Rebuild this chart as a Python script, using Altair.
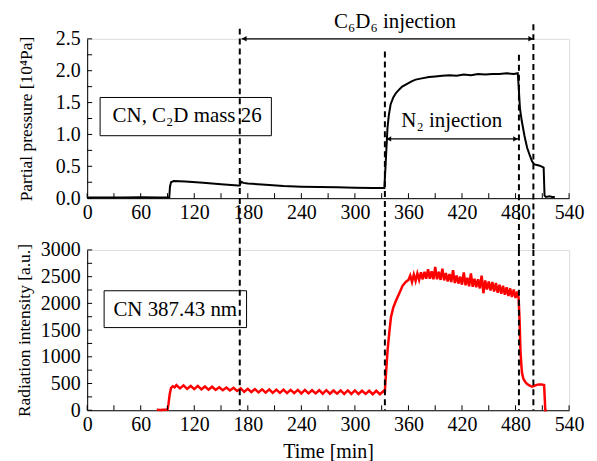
import altair as alt
import pandas as pd

FONT = "Liberation Serif"
W = 484
H1 = 160
H2 = 161
GAP = 52

# ---------------- data ----------------
# Partial pressure (10^4 Pa) versus time (min)
p_time = [0, 20, 40, 60, 80, 92, 92.8, 94, 97, 110, 130, 150, 169, 171, 172.5, 175, 180, 200, 220, 240, 260, 280, 300, 320, 333,
          334.5, 336.5, 338, 340, 343, 346, 350, 353, 358, 363, 368, 375, 383, 390, 398, 406, 414, 422, 430, 438, 446, 454, 462, 470, 478, 482.5,
          483.5, 485, 487, 490, 493, 496, 498.5, 501, 504, 507, 510, 511.5, 512.5, 514, 518, 521, 524]
p_val = [0.01, 0.01, 0.01, 0.015, 0.01, 0.01, 0.18, 0.25, 0.27, 0.26, 0.24, 0.22, 0.20, 0.20, 0.26, 0.24, 0.23, 0.21, 0.19, 0.18, 0.175, 0.17, 0.165, 0.16, 0.16,
         0.55, 1.10, 1.30, 1.47, 1.58, 1.65, 1.71, 1.75, 1.79, 1.83, 1.86, 1.88, 1.90, 1.91, 1.92, 1.93, 1.92, 1.94, 1.93, 1.95, 1.94, 1.95, 1.95, 1.96, 1.95, 1.96,
         1.75, 1.40, 1.21, 0.98, 0.79, 0.67, 0.58, 0.53, 0.52, 0.51, 0.49, 0.48, 0.04, 0.02, 0.03, 0.02, 0.02]

# Radiation intensity (a.u.) versus time (min)
r_time = [78, 82, 86, 90, 91, 92.5, 94, 96, 98,
          100, 104, 108, 112, 116, 120, 124, 128, 132, 136, 140, 144, 148, 152, 156, 160, 164, 168, 172, 176,
          180, 184, 188, 192, 196, 200, 204, 208, 212, 216, 220, 224, 228, 232, 236, 240, 244, 248, 252, 256,
          260, 264, 268, 272, 276, 280, 284, 288, 292, 296, 300, 304, 308, 312, 316, 320, 324, 328, 332,
          333.5, 334.5, 336.6, 338.5, 340.4, 343, 346, 350, 353.4, 357, 360,
          362, 364, 366, 368, 370, 372, 374, 376, 378, 380, 382, 384, 386, 388, 390, 392, 394, 396, 398, 400,
          402, 404, 406, 408, 410, 412, 414, 416, 418, 420, 422, 424, 426, 428, 430, 432, 434, 436, 438, 440,
          442, 444, 446, 448, 450, 452, 454, 456, 458, 460, 462, 464, 466, 468, 470, 472, 474, 476, 478, 480, 482,
          483.4, 484.5, 485.5, 486.5, 487.3, 489, 491, 493, 495, 498.5, 501, 503, 506, 509, 512, 512.8, 513.3, 515]
r_val = [10, 5, 10, 10, 100, 300, 420, 450, 430,
         470, 410, 465, 400, 455, 395, 455, 390, 445, 385, 440, 380, 430, 375, 425, 370, 420, 360, 410, 345,
         400, 340, 395, 335, 390, 330, 390, 325, 385, 325, 385, 320, 380, 320, 380, 315, 380, 315, 375, 315,
         375, 310, 375, 310, 370, 310, 370, 305, 370, 305, 370, 305, 365, 305, 365, 300, 365, 300, 360,
         340, 600, 1118, 1450, 1739, 1920, 2050, 2200, 2329, 2400, 2440,
         2520, 2400, 2540, 2420, 2560, 2440, 2580, 2450, 2590, 2460, 2640, 2460, 2600, 2450, 2680, 2450, 2590, 2440, 2650, 2430,
         2570, 2410, 2550, 2400, 2620, 2380, 2520, 2370, 2500, 2350, 2580, 2340, 2480, 2320, 2560, 2310, 2460, 2300, 2450, 2280,
         2520, 2190, 2430, 2260, 2410, 2240, 2400, 2220, 2380, 2200, 2350, 2180, 2330, 2160, 2300, 2140, 2280, 2120, 2260, 2100, 2220,
         2110, 1700, 1118, 850, 690, 580, 528, 490, 470, 440, 455, 470, 484, 480, 470, 200, 0, 0]

# Events (dashed lines) and where each starts in the upper panel
event_time = [171, 333.6, 483.8, 500]
event_top = [2.66, 2.30, 2.25, 2.73]

# Axis ticks and labels
x_tick_values = [0, 30, 60, 90, 120, 150, 180, 210, 240, 270, 300, 330, 360, 390, 420, 450, 480, 510, 540]
x_label_values = [0, 60, 120, 180, 240, 300, 360, 420, 480, 540]
p_tick_values = [0, 0.25, 0.5, 0.75, 1.0, 1.25, 1.5, 1.75, 2.0, 2.25, 2.5]
p_label_values = [0, 0.5, 1.0, 1.5, 2.0, 2.5]
r_tick_values = [0, 250, 500, 750, 1000, 1250, 1500, 1750, 2000, 2250, 2500, 2750, 3000]
r_label_values = [0, 500, 1000, 1500, 2000, 2500, 3000]

# Annotations
c6d6_span = [173, 500]
c6d6_level = 2.5
n2_span = [335, 483]
n2_level = 0.93

press = pd.DataFrame({"t": p_time, "v": p_val})
rad = pd.DataFrame({"t": r_time, "v": r_val})

xs = alt.Scale(domain=[0, 540], nice=False, zero=False)
ys1 = alt.Scale(domain=[0, 2.5], nice=False)
ys2 = alt.Scale(domain=[0, 3000], nice=False)


def x_axis(title):
    return alt.Axis(values=x_label_values, ticks=False, grid=False, domain=True, domainColor="black", domainWidth=1,
                    labelFont=FONT, labelFontSize=20, labelColor="black", labelPadding=4,
                    labelFlush=False, labelOverlap=False,
                    title=title, titleFont=FONT, titleFontSize=20, titleFontWeight="normal",
                    titleColor="black", titlePadding=7)


def y_axis(title, values, fmt, tpad):
    return alt.Axis(values=values, format=fmt, ticks=False, grid=False, domain=True, domainColor="black", domainWidth=1,
                    labelFont=FONT, labelFontSize=20, labelColor="black", labelPadding=7,
                    labelFlush=False, labelOverlap=False,
                    title=title, titleFont=FONT, titleFontSize=17.5, titleFontWeight="normal",
                    titleColor="black", titlePadding=tpad)


def make_panel(xaxis, yscale, yaxis, height, ticks_y, main, extras):
    """Build a layered panel where every layer shares identical axis definitions."""
    def X(field):
        return alt.X(f"{field}:Q", scale=xs, axis=xaxis)

    def Y(field):
        return alt.Y(f"{field}:Q", scale=yscale, axis=yaxis)

    layers = [main(X, Y)]
    # inward x ticks
    layers.append(alt.Chart(pd.DataFrame({"t": x_tick_values})).mark_rule(color="black", strokeWidth=1).encode(
        x=X("t"), y=alt.value(height), y2=alt.value(height - 5)))
    # inward y ticks
    layers.append(alt.Chart(pd.DataFrame({"v": ticks_y})).mark_rule(color="black", strokeWidth=1).encode(
        y=Y("v"), x=alt.value(0), x2=alt.value(5)))
    for e in extras:
        layers.append(e(X, Y))
    return alt.layer(*layers).properties(width=W, height=height)


ev = pd.DataFrame({"t": event_time, "top": event_top})

# ---------------- upper panel ----------------
xa_top = x_axis(None)
ya_top = y_axis("Partial pressure [10⁴Pa]", p_label_values, ".1f", 20)


def top_main(X, Y):
    return alt.Chart(press).mark_line(color="black", strokeWidth=2).encode(x=X("t"), y=Y("v"))


def top_box(X, Y):
    return alt.Chart(pd.DataFrame({"x": [14.5], "x2": [206.4], "y": [1.58], "y2": [0.98]})).mark_rect(
        fill="white", stroke="black", strokeWidth=1).encode(x=X("x"), x2="x2:Q", y=Y("y"), y2="y2:Q")


def top_text(X, Y):
    return alt.Chart(pd.DataFrame({"x": [112, 345, 408.5], "y": [1.29, 2.77, 1.21],
                                   "s": ["CN, C₂D mass 26", "C₆D₆ injection", "N₂ injection"]})).mark_text(
        font=FONT, fontSize=21, color="black", baseline="middle", align="center").encode(
        x=X("x"), y=Y("y"), text="s:N")


def top_arrow_lines(X, Y):
    arrows = pd.DataFrame({"x": [c6d6_span[0], n2_span[0]], "x2": [c6d6_span[1], n2_span[1]],
                           "y": [c6d6_level, n2_level]})
    return alt.Chart(arrows).mark_rule(color="black", strokeWidth=1.2).encode(x=X("x"), x2="x2:Q", y=Y("y"))


def top_arrow_heads(X, Y):
    heads = pd.DataFrame({"x": [c6d6_span[0] + 3, c6d6_span[1] - 3, n2_span[0] + 3, n2_span[1] - 3],
                          "y": [c6d6_level, c6d6_level, n2_level, n2_level],
                          "shape": ["triangle-left", "triangle-right", "triangle-left", "triangle-right"]})
    return alt.Chart(heads).mark_point(filled=True, color="black", size=30, opacity=1).encode(
        x=X("x"), y=Y("y"), shape=alt.Shape("shape:N", scale=None))


def top_dashes(X, Y):
    return alt.Chart(ev).mark_rule(color="black", strokeWidth=2, strokeDash=[6, 4]).encode(
        x=X("t"), y=Y("top"), y2=alt.value(H1 + GAP))


top = make_panel(xa_top, ys1, ya_top, H1, p_tick_values, top_main,
                 [top_box, top_text, top_arrow_lines, top_arrow_heads, top_dashes])

# ---------------- lower panel ----------------
xa_bot = x_axis("Time [min]")
ya_bot = y_axis("Radiation intensity [a.u.]", r_label_values, "d", 6.5)


def bot_main(X, Y):
    return alt.Chart(rad).mark_line(color="#ff0000", strokeWidth=2.5).encode(x=X("t"), y=Y("v"))


def bot_box(X, Y):
    return alt.Chart(pd.DataFrame({"x": [19], "x2": [178.6], "y": [2236], "y2": [1547]})).mark_rect(
        fill="white", stroke="black", strokeWidth=1).encode(x=X("x"), x2="x2:Q", y=Y("y"), y2="y2:Q")


def bot_text(X, Y):
    return alt.Chart(pd.DataFrame({"x": [98.7], "y": [1882], "s": ["CN 387.43 nm"]})).mark_text(
        font=FONT, fontSize=21, color="black", baseline="middle", align="center").encode(
        x=X("x"), y=Y("y"), text="s:N")


def bot_dashes(X, Y):
    return alt.Chart(ev).mark_rule(color="black", strokeWidth=2, strokeDash=[6, 4]).encode(
        x=X("t"), y=alt.value(0), y2=alt.value(H2))


bottom = make_panel(xa_bot, ys2, ya_bot, H2, r_tick_values, bot_main, [bot_box, bot_text, bot_dashes])

chart = alt.vconcat(top, bottom, spacing=GAP, bounds="flush").properties(
    padding={"left": 7.5, "top": 1, "right": 4, "bottom": 0}
).configure_view(stroke=None).configure(font=FONT)

chart.save("out.html", embed_options={"renderer": "svg", "actions": False})
